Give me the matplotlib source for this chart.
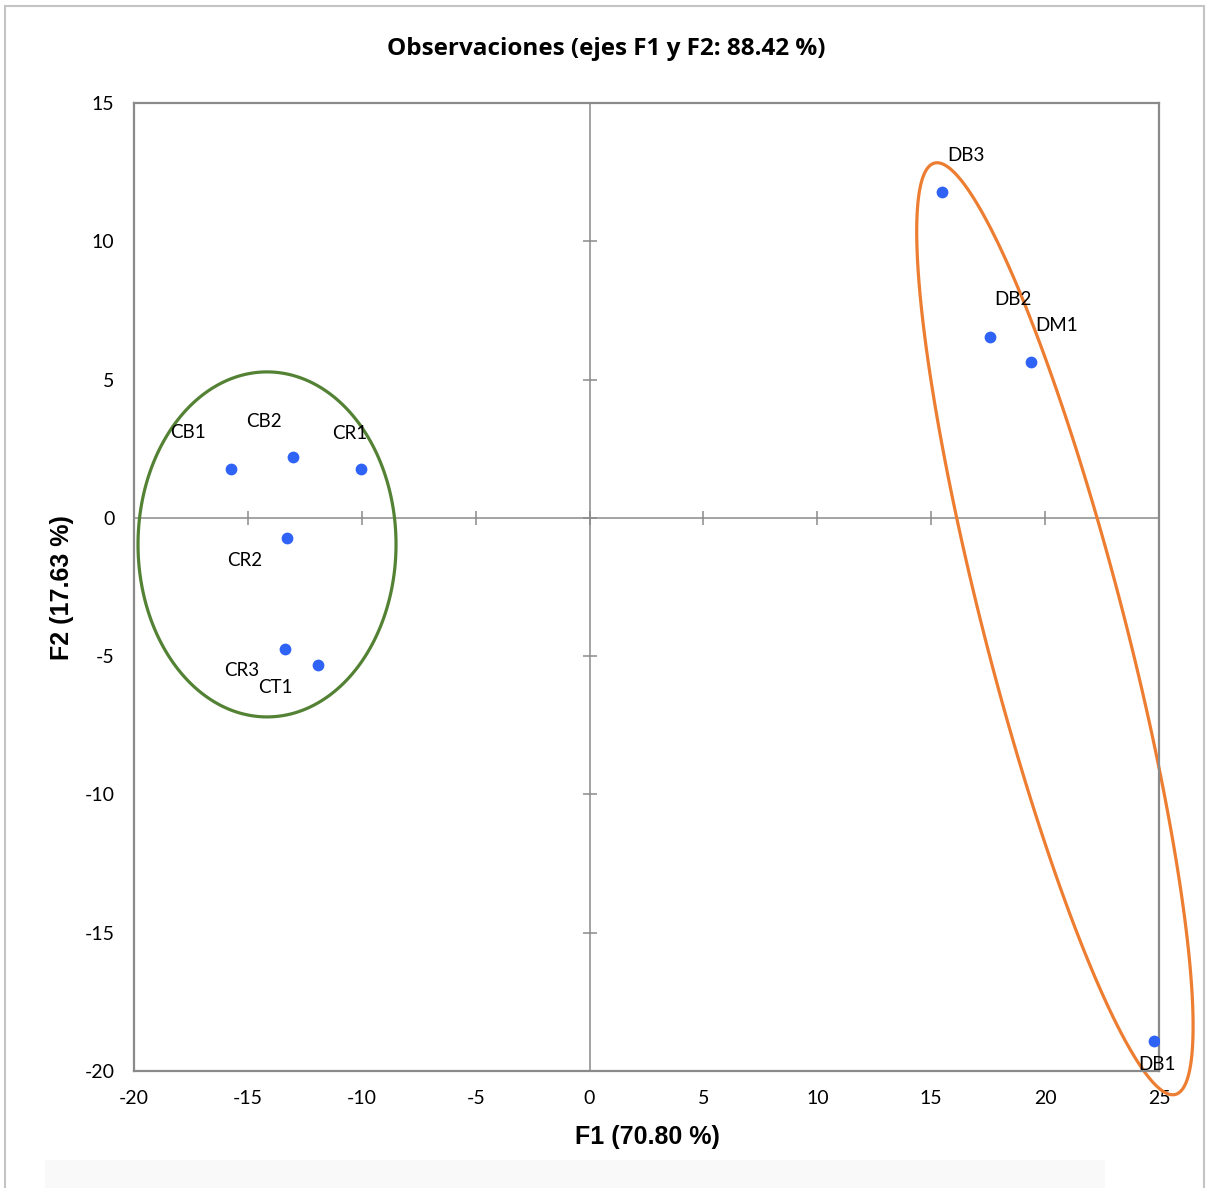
import numpy as np
import matplotlib
matplotlib.use("Agg")
import matplotlib.pyplot as plt
from matplotlib.patches import Rectangle, Polygon

plt.rcParams['axes.unicode_minus'] = False

# observation scores on F1 / F2
labels = ['CB1', 'CB2', 'CR1', 'CR2', 'CR3', 'CT1', 'DB3', 'DB2', 'DM1', 'DB1']
f1 = [-15.74, -13.02, -10.03, -13.28, -13.37, -11.92, 15.47, 17.58, 19.38, 24.78]
f2 = [1.77, 2.20, 1.77, -0.72, -4.74, -5.31, 11.79, 6.54, 5.64, -18.91]

xticks = [-20, -15, -10, -5, 0, 5, 10, 15, 20, 25]
yticks = [-20, -15, -10, -5, 0, 5, 10, 15]

# label offsets in pixels (dx, dy, y up)
label_off = [(-43, 36), (-29, 36), (-11, 35), (-42, -23), (-43, -22), (-43, -23),
             (24, 36), (23, 37), (26, 36), (3, -24)]

W, H = 1210, 1188
fig = plt.figure(figsize=(W / 100, H / 100), dpi=100)
ax = fig.add_axes([134 / W, (H - 1071) / H, 1025 / W, 968 / H])

ax.set_xlim(-20, 25)
ax.set_ylim(-20, 15)
ax.set_xticks(xticks)
ax.set_yticks(yticks)
ax.tick_params(length=0, labelsize=14, colors='black', pad=14)
for lab in ax.get_xticklabels() + ax.get_yticklabels():
    lab.set_family('Lato')
for s in ax.spines.values():
    s.set_color('#8a8a8a')
    s.set_linewidth(1.6)

# axis lines through origin with cross ticks
ax.axhline(0, color='#8a8a8a', lw=1.1, zorder=1)
ax.axvline(0, color='#8a8a8a', lw=1.1, zorder=1)
ax.plot(xticks, [0] * len(xticks), ls='none', marker='|', ms=10, mew=1.1, color='#8a8a8a', zorder=1)
ax.plot([0] * len(yticks), yticks, ls='none', marker='_', ms=10, mew=1.1, color='#8a8a8a', zorder=1)

ax.scatter(f1, f2, s=72, color='#2F63F6', zorder=3, linewidths=0)
for lb, x, y, (dx, dy) in zip(labels, f1, f2, label_off):
    ax.annotate(lb, (x, y), xytext=(dx, dy), textcoords='offset pixels',
                ha='center', va='center', fontsize=13.5, family='Lato', zorder=4)


def ellipse(cx, cy, a_px, b_px, ang_deg, color):
    # ellipse defined in screen pixels around a data centre
    c = ax.transData.transform((cx, cy))
    t = np.linspace(0, 2 * np.pi, 400, endpoint=False)
    th = np.deg2rad(ang_deg)
    u = np.array([np.sin(th), np.cos(th)])     # major axis direction (tilt from vertical)
    v = np.array([np.cos(th), -np.sin(th)])
    pts = c + np.outer(a_px * np.cos(t), u) + np.outer(b_px * np.sin(t), v)
    d = ax.transData.inverted().transform(pts)
    ax.add_patch(Polygon(d, closed=True, fill=False, edgecolor=color, lw=2.3,
                         clip_on=False, zorder=2))


ellipse(-14.16, -0.96, 172.5, 129, 0, '#548235')
ellipse(20.43, -4.01, 481, 70, -14.5, '#ED7D31')

fig.text(606 / W, 1 - 49 / H, 'Observaciones (ejes F1 y F2: 88.42 %)', fontsize=17.5,
         fontweight='bold', family='Open Sans', ha='center', va='center')
fig.text(647 / W, 1 - 1137 / H, 'F1 (70.80 %)', fontsize=18, fontweight='bold',
         family='Liberation Sans', ha='center', va='center')
fig.text(62 / W, 1 - 588 / H, 'F2 (17.63 %)', fontsize=18, fontweight='bold',
         family='Liberation Sans', ha='center', va='center', rotation=90)

# chart frame and faint shadow at the bottom
fig.patches.append(Rectangle((45 / W, 0), 1060 / W, 28 / H, transform=fig.transFigure,
                             facecolor='#f9f9f9', edgecolor='none', zorder=0))
fig.patches.append(Rectangle((5 / W, -0.05), 1199 / W, 1.05 - 6 / H, transform=fig.transFigure,
                             facecolor='none', edgecolor='#c4c4c4', lw=1.5))

fig.savefig('out.png', dpi=100)
